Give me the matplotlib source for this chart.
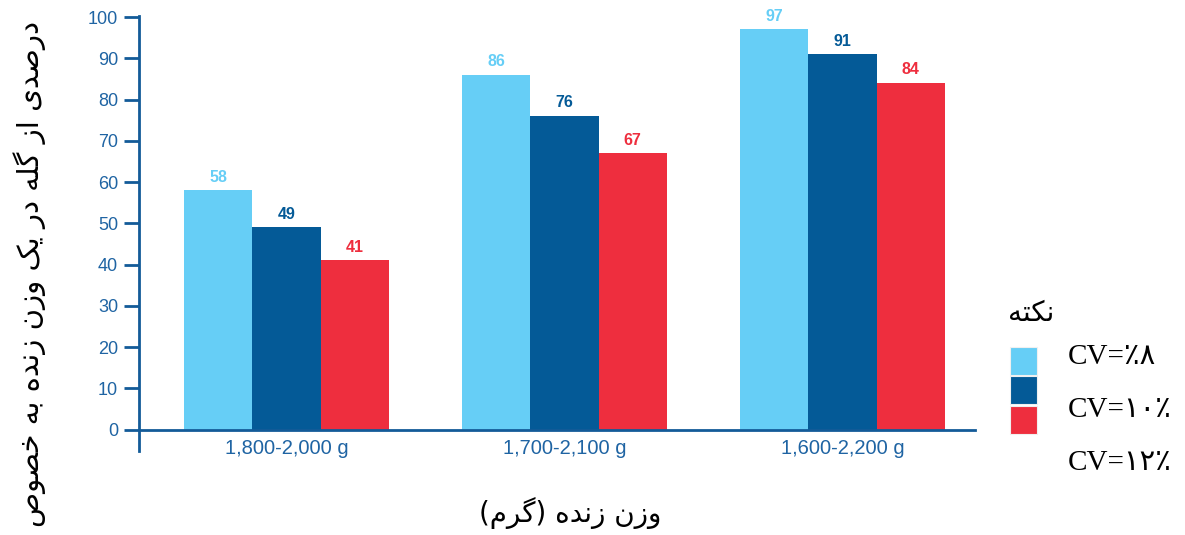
import matplotlib
matplotlib.use("Agg")
import matplotlib.pyplot as plt
from matplotlib.patches import Rectangle
import numpy as np

# ---- data -------------------------------------------------------------
categories = ["1,800-2,000 g", "1,700-2,100 g", "1,600-2,200 g"]
series_labels = ["CV=٪۸", "CV=۱۰٪", "CV=۱۲٪"]
cv8 = [58, 86, 97]
cv10 = [49, 76, 91]
cv12 = [41, 67, 84]
yticks = list(range(0, 101, 10))
ylabel_fa = "درصدی از گله در یک وزن زنده به خصوص"
xlabel_fa = "وزن زنده (گرم)"
legend_title_fa = "نکته"

colors = ["#66CEF6", "#045A97", "#EE2E3E"]
axis_blue = "#135B98"
tick_blue = "#1F64A3"

# ---- minimal Persian shaping (presentation forms + RTL order) ----------
# (isolated, final, initial, medial); None = letter does not join leftwards
FORMS = {
    "\u0627": ("\uFE8D", "\uFE8E", None, None),          # ا
    "\u0622": ("\uFE81", "\uFE82", None, None),          # آ
    "\u0628": ("\uFE8F", "\uFE90", "\uFE91", "\uFE92"),  # ب
    "\u067E": ("\uFB56", "\uFB57", "\uFB58", "\uFB59"),  # پ
    "\u062A": ("\uFE95", "\uFE96", "\uFE97", "\uFE98"),  # ت
    "\u062C": ("\uFE9D", "\uFE9E", "\uFE9F", "\uFEA0"),  # ج
    "\u062D": ("\uFEA1", "\uFEA2", "\uFEA3", "\uFEA4"),  # ح
    "\u062E": ("\uFEA5", "\uFEA6", "\uFEA7", "\uFEA8"),  # خ
    "\u062F": ("\uFEA9", "\uFEAA", None, None),          # د
    "\u0630": ("\uFEAB", "\uFEAC", None, None),          # ذ
    "\u0631": ("\uFEAD", "\uFEAE", None, None),          # ر
    "\u0632": ("\uFEAF", "\uFEB0", None, None),          # ز
    "\u0633": ("\uFEB1", "\uFEB2", "\uFEB3", "\uFEB4"),  # س
    "\u0634": ("\uFEB5", "\uFEB6", "\uFEB7", "\uFEB8"),  # ش
    "\u0635": ("\uFEB9", "\uFEBA", "\uFEBB", "\uFEBC"),  # ص
    "\u0639": ("\uFEC9", "\uFECA", "\uFECB", "\uFECC"),  # ع
    "\u0641": ("\uFED1", "\uFED2", "\uFED3", "\uFED4"),  # ف
    "\u0642": ("\uFED5", "\uFED6", "\uFED7", "\uFED8"),  # ق
    "\u06A9": ("\uFB8E", "\uFB8F", "\uFB90", "\uFB91"),  # ک
    "\u06AF": ("\uFB92", "\uFB93", "\uFB94", "\uFB95"),  # گ
    "\u0644": ("\uFEDD", "\uFEDE", "\uFEDF", "\uFEE0"),  # ل
    "\u0645": ("\uFEE1", "\uFEE2", "\uFEE3", "\uFEE4"),  # م
    "\u0646": ("\uFEE5", "\uFEE6", "\uFEE7", "\uFEE8"),  # ن
    "\u0647": ("\uFEE9", "\uFEEA", "\uFEEB", "\uFEEC"),  # ه
    "\u0648": ("\uFEED", "\uFEEE", None, None),          # و
    "\u06CC": ("\uFBFC", "\uFBFD", "\uFBFE", "\uFBFF"),  # ی
}


def fa(text):
    chars = list(text)
    out = []
    for i, c in enumerate(chars):
        if c not in FORMS:
            out.append(c)
            continue
        prev = chars[i - 1] if i > 0 else None
        nxt = chars[i + 1] if i + 1 < len(chars) else None
        iso, fin, ini, med = FORMS[c]
        join_prev = prev in FORMS and FORMS[prev][2] is not None
        join_next = nxt in FORMS and ini is not None
        if join_prev and join_next:
            out.append(med)
        elif join_prev:
            out.append(fin)
        elif join_next:
            out.append(ini)
        else:
            out.append(iso)
    visual = "".join(out)[::-1]
    return visual.translate(str.maketrans("()", ")("))


# ---- figure -----------------------------------------------------------
W, H = 1185, 535
fig = plt.figure(figsize=(W / 100, H / 100), dpi=100)
ax = fig.add_axes([139 / W, 1 - 450.6 / H, (975 - 139) / W, (450.6 - 15.8) / H])

x = np.arange(len(categories))
bw = 0.245
series = [cv8, cv10, cv12]
for k, (vals, col) in enumerate(zip(series, colors)):
    xs = x + (k - 1) * bw
    ax.bar(xs, vals, width=bw, color=col, edgecolor="none", zorder=2)
    for xi, v in zip(xs, vals):
        ax.annotate(str(v), (xi, v), xytext=(0, 4), textcoords="offset points",
                    ha="center", va="bottom", fontsize=11.5, fontweight="bold",
                    color=col, family="Liberation Sans")

ax.set_xlim(-0.5306, 2.4766)
ax.set_ylim(-5.1, 100.3)

for s in ("top", "right"):
    ax.spines[s].set_visible(False)
ax.spines["bottom"].set_position(("data", 0))
ax.spines["bottom"].set_color(axis_blue)
ax.spines["bottom"].set_linewidth(2.0)
ax.spines["left"].set_color(axis_blue)
ax.spines["left"].set_linewidth(2.0)
ax.spines["bottom"].set_zorder(3)

ax.set_yticks(yticks)
ax.set_xticks(x)
ax.set_xticklabels(categories)
ax.tick_params(axis="y", length=11, width=2.0, color=axis_blue, pad=4,
               labelsize=13, labelcolor=tick_blue)
ax.tick_params(axis="x", length=0, pad=7, labelsize=14.5, labelcolor=tick_blue)
for lab in ax.get_yticklabels() + ax.get_xticklabels():
    lab.set_family("Liberation Sans")

# axis titles
fig.text(30 / W, 1 - 21 / H, fa(ylabel_fa), rotation=90, ha="center", va="top",
         fontsize=21, family="DejaVu Sans", color="black")
fig.text(570 / W, 1 - 513 / H, fa(xlabel_fa), ha="center", va="center",
         fontsize=20, family="DejaVu Sans", color="black")

# legend block
fig.text(1031 / W, 1 - 313 / H, fa(legend_title_fa), ha="center", va="center",
         fontsize=20, family="DejaVu Sans", color="black")
patch_tops = [347, 376, 406]
for top, col in zip(patch_tops, colors):
    fig.add_artist(Rectangle((1010 / W, 1 - (top + 28) / H), 27 / W, 28 / H,
                             transform=fig.transFigure, facecolor=col,
                             edgecolor="#f0f0f0", linewidth=0.8))
label_y = [357, 410, 463]
for ly, lab in zip(label_y, series_labels):
    fig.text(1068 / W, 1 - ly / H, lab, ha="left", va="center", fontsize=21,
             family=["Liberation Serif", "DejaVu Sans"], color="black")

fig.savefig("out.png", dpi=100)
